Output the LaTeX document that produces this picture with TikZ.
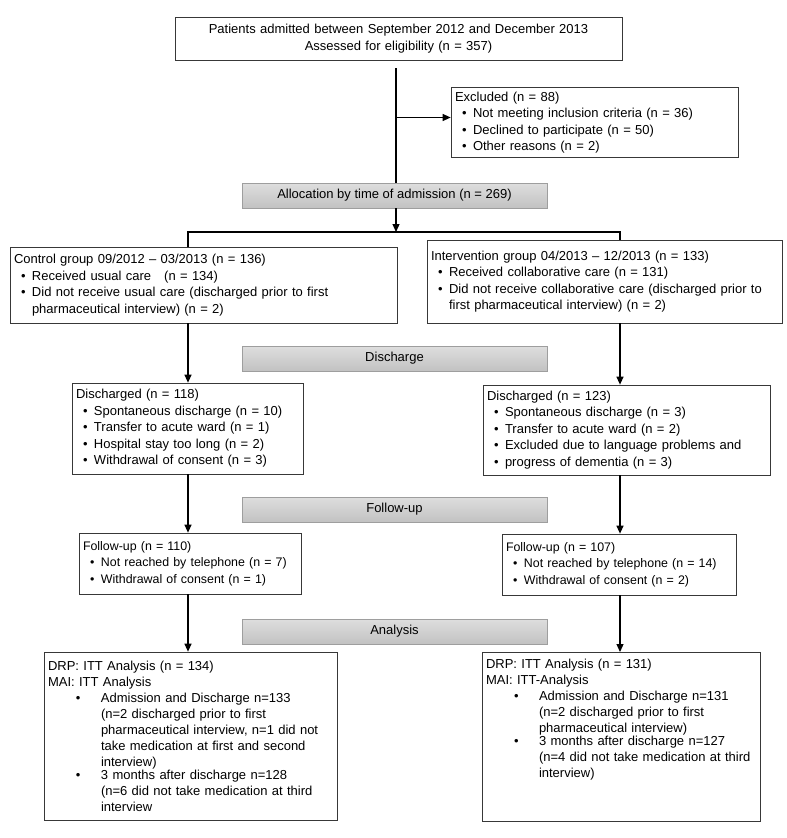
\documentclass[tikz,border=0pt]{standalone}
\usepackage{fontspec}
\setmainfont{Liberation Sans}
\usetikzlibrary{arrows.meta}

\definecolor{cor_borda}{gray}{0.22}
\definecolor{cor_fase_topo}{gray}{0.87}
\definecolor{cor_fase_base}{gray}{0.76}
\definecolor{cor_fase_borda}{gray}{0.62}

% itens com marcador (caixas estreitas e caixas de analise)
\newcommand{\bul}[1]{\par\noindent\hspace*{7pt}\makebox[11pt][l]{\textbullet}%
    \parbox[t]{\dimexpr\hsize-18pt\relax}{\raggedright #1}}
\newcommand{\bulw}[1]{\par\noindent\hspace*{28pt}\makebox[25pt][l]{\textbullet}%
    \parbox[t]{\dimexpr\hsize-53pt\relax}{\raggedright #1}}

\begin{document}
\begin{tikzpicture}[x=1pt,y=-1pt]
        \tikzset{
            caixa/.style={
                draw=cor_borda,
                line width=0.7pt,
                align=left,
                inner sep=4pt,
                font=\fontsize{13}{16.5}\selectfont,
                text width=#1
            },
            fase/.style={
                draw=cor_fase_borda,
                top color=cor_fase_topo,
                bottom color=cor_fase_base,
                minimum width=305pt,
                minimum height=25pt,
                font=\fontsize{13}{16.5}\selectfont
            },
            linha/.style={black, line width=1.2pt},
            seta/.style={linha, -{Triangle[length=8pt,width=7pt]}}
        }
        \useasboundingbox (0,0) rectangle (787,838);

        %colunas
        \coordinate (colL) at (188,0);
        \coordinate (colR) at (620,0);
        \coordinate (topo) at (396,68);
        \coordinate (ramo) at (396,232);

        %triagem
        \node[caixa=439pt, align=center, minimum height=43pt] (adm) at (398.5,38.5)
            {Patients admitted between September 2012 and December 2013\\Assessed for eligibility (n = 357)};
        \node[caixa=279pt, minimum height=65pt] (excl) at (594.5,122.5)
            {Excluded (n = 88)
             \bul{Not meeting inclusion criteria (n = 36)}
             \bul{Declined to participate (n = 50)}
             \bul{Other reasons (n = 2)}};

        %fases
        \node[fase] (alloc) at (394.5,195.5) {Allocation by time of admission (n = 269)};
        \node[fase] (fdis) at (394.5,358.5) {Discharge};
        \node[fase] (ffu) at (394.5,509.5) {Follow-up};
        \node[fase] (fana) at (394.5,631.5) {Analysis};

        %grupos
        \node[caixa=379pt, minimum height=76pt] (ctrl) at (203.5,285)
            {Control group 09/2012 -- 03/2013 (n = 136)
             \bul{Received usual care\ \ \ (n = 134)}
             \bul{Did not receive usual care (discharged prior to first\\pharmaceutical interview) (n = 2)}};
        \node[caixa=347pt, minimum height=83pt] (intv) at (604.5,281.5)
            {Intervention group 04/2013 -- 12/2013 (n = 133)
             \bul{Received collaborative care (n = 131)}
             \bul{Did not receive collaborative care (discharged prior to\\first pharmaceutical interview) (n = 2)}};

        %alta
        \node[caixa=223pt, minimum height=91pt] (disL) at (187.5,428.5)
            {Discharged (n = 118)
             \bul{Spontaneous discharge (n = 10)}
             \bul{Transfer to acute ward (n = 1)}
             \bul{Hospital stay too long (n = 2)}
             \bul{Withdrawal of consent (n = 3)}};
        \node[caixa=279pt, minimum height=90pt] (disR) at (626.5,430)
            {Discharged (n = 123)
             \bul{Spontaneous discharge (n = 3)}
             \bul{Transfer to acute ward (n = 2)}
             \bul{Excluded due to language problems and}
             \bul{progress of dementia (n = 3)}};

        %seguimento
        \node[caixa=214pt, font=\fontsize{12.4}{16.5}\selectfont, minimum height=61pt] (fuL) at (190,563.5)
            {Follow-up (n = 110)
             \bul{Not reached by telephone (n = 7)}
             \bul{Withdrawal of consent (n = 1)}};
        \node[caixa=226pt, font=\fontsize{12.4}{16.5}\selectfont, minimum height=61pt] (fuR) at (619,564.5)
            {Follow-up (n = 107)
             \bul{Not reached by telephone (n = 14)}
             \bul{Withdrawal of consent (n = 2)}};

        %analise
        \node[caixa=285pt, font=\fontsize{13}{16}\selectfont, minimum height=168pt] (anaL) at (190.5,736)
            {DRP: ITT Analysis (n = 134)\par
             MAI: ITT Analysis
             \bulw{Admission and Discharge n=133\\(n=2 discharged prior to first\\pharmaceutical interview, n=1 did not\\take medication at first and second\\interview)}
             \bulw{3 months after discharge n=128\\(n=6 did not take medication at third\\interview}};
        \node[caixa=270pt, font=\fontsize{13}{16}\selectfont, text height=12pt, text depth=149pt, anchor=north] (anaR) at (621,652)
            {DRP: ITT Analysis (n = 131)\par
             MAI: ITT-Analysis
             \bulw{Admission and Discharge n=131\\(n=2 discharged prior to first\\pharmaceutical interview)}
             \bulw{3 months after discharge n=127\\(n=4 did not take medication at third\\interview)}};

        %ligacoes
        \draw[linha] (topo) -- (topo |- alloc.north);
        \draw[seta] ([yshift=5pt]excl.west -| topo) -- ([yshift=5pt]excl.west);
        \draw[seta] (alloc.south -| ramo) -- (ramo);
        \draw[linha] (ctrl.north -| colL) |- (ramo) -| (intv.north -| colR);

        \draw[seta] (ctrl.south -| colL) -- (disL.north -| colL);
        \draw[seta] (disL.south -| colL) -- (fuL.north -| colL);
        \draw[seta] (fuL.south -| colL) -- (anaL.north -| colL);

        \draw[seta] (intv.south -| colR) -- (disR.north -| colR);
        \draw[seta] (disR.south -| colR) -- (fuR.north -| colR);
        \draw[seta] (fuR.south -| colR) -- (anaR.north -| colR);

\end{tikzpicture}
\end{document}
